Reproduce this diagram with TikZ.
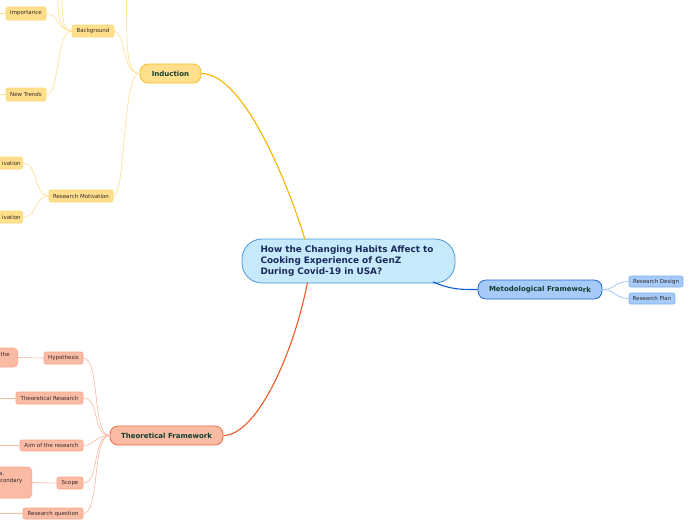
\documentclass[tikz,border=0pt]{standalone}
\usepackage{fontspec}
\setmainfont{DejaVu Sans}
\usetikzlibrary{calc}
\definecolor{yfill}{HTML}{FFDF8C}
\definecolor{yborder}{HTML}{F5BE2A}
\definecolor{ysub}{HTML}{FFD777}
\definecolor{yline}{HTML}{F7B500}
\definecolor{ylight}{HTML}{FFDE8E}
\definecolor{rfill}{HTML}{FABBA5}
\definecolor{rborder}{HTML}{EF6A42}
\definecolor{rsub}{HTML}{F8A688}
\definecolor{rline}{HTML}{EE5A24}
\definecolor{rlight}{HTML}{F9B7A0}
\definecolor{bfill}{HTML}{A6CBF9}
\definecolor{bborder}{HTML}{1A66D2}
\definecolor{bsub}{HTML}{7DB0F0}
\definecolor{bline}{HTML}{0B5ED7}
\definecolor{blight}{HTML}{8DB9F2}
\definecolor{cfill}{HTML}{C6EAFB}
\definecolor{cborder}{HTML}{4A98D6}
\definecolor{ctext}{HTML}{1B2A5C}
\definecolor{mtext}{HTML}{113D2E}
\definecolor{stext}{HTML}{332828}
\tikzset{
  x=1pt, y=-1pt,
  mainbox/.style={draw, line width=0.8pt, rounded corners=8pt, inner sep=0pt,
    font=\bfseries\fontsize{7}{8}\selectfont, text=mtext},
  subbox/.style={draw, line width=0.6pt, rounded corners=2pt, inner sep=0pt,
    font=\fontsize{5.5}{6.5}\selectfont, text=stext},
  ysubbox/.style={subbox, fill=yfill, draw=ysub},
  rsubbox/.style={subbox, fill=rfill, draw=rsub},
  bsubbox/.style={subbox, fill=bfill, draw=bsub},
  stxt/.style={font=\fontsize{5.5}{6.5}\selectfont, text=stext, inner sep=0pt, anchor=base east},
  yconn/.style={draw=ylight, line width=0.6pt},
  rconn/.style={draw=rlight, line width=0.6pt},
  bconn/.style={draw=blight, line width=0.6pt},
}
\begin{document}
\begin{tikzpicture}
\useasboundingbox (0,0) rectangle (696,520);
\clip (0,0) rectangle (696,520);
\fill[white] (0,0) rectangle (696,520);

% central
\node[draw=cborder, fill=cfill, line width=0.8pt, rounded corners=20pt,
  minimum width=213, minimum height=44, inner sep=0pt,
  text width=176, align=left, text=ctext,
  font=\bfseries\fontsize{8.9}{11}\selectfont] (c) at (348.5,261)
  {How the Changing Habits Affect to\\Cooking Experience of GenZ\\During Covid-19 in USA?};

% main nodes
\node[mainbox, fill=yfill, draw=yborder, minimum width=61, minimum height=19] (ind) at (170.5,73.5) {Induction};
\node[mainbox, fill=rfill, draw=rborder, minimum width=113, minimum height=19] (theo) at (166.5,435.5) {Theoretical Framework};
\node[mainbox, fill=bfill, draw=bborder, minimum width=124, minimum height=19] (meto) at (540,289.5) {Metodological Framewo\raisebox{-1.2pt}{rk}};

% yellow sub nodes
\node[ysubbox, minimum width=42, minimum height=12] (bg) at (93,31) {Background};
\node[ysubbox, minimum width=40, minimum height=13] (imp) at (26,13.5) {Importance};
\node[ysubbox, minimum width=40, minimum height=13] (nt) at (26,94.5) {New Trends};
\node[ysubbox, minimum width=64, minimum height=12] (rm) at (81,196) {Research Motivation};
\node[ysubbox, minimum width=45, minimum height=12, anchor=east, text width=41, align=right] (iv1) at (23,163) {ivation};
\node[ysubbox, minimum width=45, minimum height=12, anchor=east, text width=41, align=right] (iv2) at (23,217) {ivation};

% blue sub nodes
\node[bsubbox, minimum width=54, minimum height=11] (rd) at (656,281.5) {Research Design};
\node[bsubbox, minimum width=46, minimum height=11] (rp) at (652,298.5) {Research Plan};

% red sub nodes
\node[rsubbox, minimum width=39, minimum height=12] (hyp) at (63.5,358) {Hypothesis};
\node[rsubbox, minimum width=67, minimum height=12] (thr) at (49.5,398) {Theoretical Research};
\node[rsubbox, minimum width=63, minimum height=11] (aim) at (51.5,445.5) {Aim of the research};
\node[rsubbox, minimum width=26, minimum height=12] (sc) at (70,483) {Scope};
\node[rsubbox, minimum width=60, minimum height=11] (rq) at (53,513.5) {Research question};
\node[rsubbox, rounded corners=4pt, minimum width=40, minimum height=19, anchor=east] (hc) at (18,357.5) {};
\node[stxt, anchor=base west] (hct) at (0.5,356) {the};
\node[rsubbox, rounded corners=4pt, minimum width=50, minimum height=31, anchor=east] (scc) at (32,482.5) {};
\node[stxt] (scc1) at (4.5,475) {a.};
\node[stxt] (scc2) at (22.5,482) {condary};

% coordinates
\coordinate (cI) at (305,239.5);
\coordinate (cT) at (307.5,282.5);
\coordinate (cM) at (433,282);
\coordinate (top1) at (126.5,0);
\coordinate (top2) at (58,0);
\coordinate (top3) at (62,0);
\coordinate (l1) at (0,13.5);
\coordinate (l2) at (0,94.5);
\coordinate (l3) at (0,398);
\coordinate (l4) at (0,445.5);
\coordinate (l5) at (0,513.5);

% main connectors
\draw[yline, line width=1.1pt] (cI) .. controls (290,190) and (245,73.5) .. (ind.east);
\draw[rline, line width=1.1pt] (cT) .. controls (292,360) and (255,435.5) .. (theo.east);
\draw[bline, line width=1.1pt] (cM) .. controls (452,290) and (462,289.5) .. (meto.west);

% yellow connectors
\draw[yconn] (ind.west) .. controls (127,73.5) and (126.5,50) .. (top1);
\draw[yconn] (ind.west) .. controls (122,73.5) and (125,31) .. (bg.east);
\draw[yconn] (ind.west) .. controls (122,73.5) and (126,196) .. (rm.east);
\draw[yconn] (bg.west) .. controls (62,31) and (58,20) .. (top2);
\draw[yconn] (bg.west) .. controls (64,31) and (62,20) .. (top3);
\draw[yconn] (bg.west) .. controls (58,31) and (58,13.5) .. (imp.east);
\draw[yconn] (bg.west) .. controls (56,31) and (60,94.5) .. (nt.east);
\draw[yconn] (imp.west) -- (l1);
\draw[yconn] (nt.west) -- (l2);
\draw[yconn] (rm.west) .. controls (34,196) and (38,163) .. (iv1.east);
\draw[yconn] (rm.west) .. controls (34,196) and (38,217) .. (iv2.east);

% blue connectors
\draw[bconn] (meto.east) .. controls (615,289.5) and (615,281.5) .. (rd.west);
\draw[bconn] (meto.east) .. controls (615,289.5) and (615,298.5) .. (rp.west);

% red connectors
\draw[rconn] (theo.west) .. controls (92,435.5) and (100,358) .. (hyp.east);
\draw[rconn] (theo.west) .. controls (92,435.5) and (100,398) .. (thr.east);
\draw[rconn] (theo.west) .. controls (95,435.5) and (95,445.5) .. (aim.east);
\draw[rconn] (theo.west) .. controls (92,435.5) and (100,483) .. (sc.east);
\draw[rconn] (theo.west) .. controls (92,435.5) and (100,513.5) .. (rq.east);
\draw[rconn] (hyp.west) -- (hc.east);
\draw[rconn] (sc.west) -- (scc.east);
\draw[rconn] (thr.west) -- (l3);
\draw[rconn] (aim.west) -- (l4);
\draw[rconn] (rq.west) -- (l5);
\end{tikzpicture}
\end{document}
